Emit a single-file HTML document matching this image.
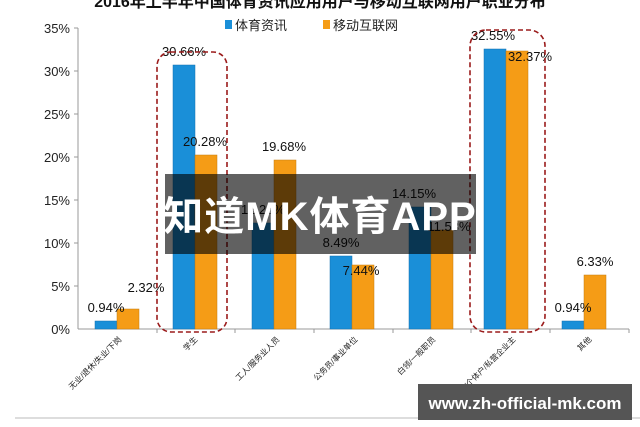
<!DOCTYPE html>
<html><head><meta charset="utf-8"><style>
body{margin:0;background:#fff;width:640px;height:427px;overflow:hidden;position:relative;font-family:"Liberation Sans","Noto Sans CJK SC",sans-serif}
svg{position:absolute;left:0;top:0}
</style></head><body>
<svg width="640" height="427" viewBox="0 0 640 427" font-family="Liberation Sans, Noto Sans CJK SC, sans-serif">
<text x="320" y="7" text-anchor="middle" font-size="16" font-weight="bold" fill="#111">2016年上半年中国体育资讯应用用户与移动互联网用户职业分布</text>
<rect x="225" y="20" width="7" height="9" fill="#1a8fd8"/><text x="235" y="30" font-size="13" fill="#222">体育资讯</text>
<rect x="323" y="20" width="7" height="9" fill="#f59c16"/><text x="333" y="30" font-size="13" fill="#222">移动互联网</text>
<g font-size="13" fill="#222" text-anchor="end">
<text x="70" y="33">35%</text><text x="70" y="76">30%</text><text x="70" y="119">25%</text><text x="70" y="162">20%</text><text x="70" y="205">15%</text><text x="70" y="248">10%</text><text x="70" y="291">5%</text><text x="70" y="334">0%</text>
</g>
<g stroke="#999" stroke-width="1">
<line x1="78" y1="28" x2="78" y2="329"/>
<line x1="78" y1="329" x2="629" y2="329"/>
<line x1="74" y1="28" x2="78" y2="28"/><line x1="74" y1="71" x2="78" y2="71"/><line x1="74" y1="114" x2="78" y2="114"/><line x1="74" y1="157" x2="78" y2="157"/><line x1="74" y1="200" x2="78" y2="200"/><line x1="74" y1="243" x2="78" y2="243"/><line x1="74" y1="286" x2="78" y2="286"/>
<line x1="157" y1="329" x2="157" y2="333"/><line x1="235" y1="329" x2="235" y2="333"/><line x1="314" y1="329" x2="314" y2="333"/><line x1="393" y1="329" x2="393" y2="333"/><line x1="471" y1="329" x2="471" y2="333"/><line x1="550" y1="329" x2="550" y2="333"/><line x1="629" y1="329" x2="629" y2="333"/>
</g>
<g fill="#1a8fd8" stroke="#1470b0" stroke-width="0.5">
<rect x="95" y="321" width="22" height="8"/>
<rect x="173" y="65" width="22" height="264"/>
<rect x="252" y="223" width="22" height="106"/>
<rect x="330" y="256" width="22" height="73"/>
<rect x="409" y="207" width="22" height="122"/>
<rect x="484" y="49" width="22" height="280"/>
<rect x="562" y="321" width="22" height="8"/>
</g>
<g fill="#f59c16" stroke="#c47a10" stroke-width="0.5">
<rect x="117" y="309" width="22" height="20"/>
<rect x="195" y="155" width="22" height="174"/>
<rect x="274" y="160" width="22" height="169"/>
<rect x="352" y="265" width="22" height="64"/>
<rect x="431" y="230" width="22" height="99"/>
<rect x="506" y="51" width="22" height="278"/>
<rect x="584" y="275" width="22" height="54"/>
</g>
<g font-size="13" fill="#111" text-anchor="middle">
<text x="106" y="312">0.94%</text><text x="146" y="292">2.32%</text>
<text x="184" y="56">30.66%</text><text x="205" y="146">20.28%</text>
<text x="263" y="214">12.26%</text><text x="284" y="151">19.68%</text>
<text x="341" y="247">8.49%</text><text x="361" y="275">7.44%</text>
<text x="414" y="198">14.15%</text><text x="449" y="231">11.53%</text>
<text x="493" y="40">32.55%</text><text x="530" y="61">32.37%</text>
<text x="573" y="312">0.94%</text><text x="595" y="266">6.33%</text>
</g>
<rect x="157" y="52" width="70" height="280" rx="14" fill="none" stroke="#9b1c1c" stroke-width="1.6" stroke-dasharray="5,3"/>
<rect x="470" y="30" width="75" height="302" rx="16" fill="none" stroke="#9b1c1c" stroke-width="1.6" stroke-dasharray="5,3"/>
<g font-size="8" fill="#222" text-anchor="end">
<text transform="translate(122,340) rotate(-45)">无业/退休/失业/下岗</text>
<text transform="translate(198,340) rotate(-45)">学生</text>
<text transform="translate(280,340) rotate(-45)">工人/服务业人员</text>
<text transform="translate(358,340) rotate(-45)">公务员/事业单位</text>
<text transform="translate(436,340) rotate(-45)">白领/一般职员</text>
<text transform="translate(516,340) rotate(-45)">自由职业/个体户/私营企业主</text>
<text transform="translate(592,340) rotate(-45)">其他</text>
</g>
<line x1="15" y1="418" x2="640" y2="418" stroke="#bbb" stroke-width="1"/>
<rect x="165" y="174" width="311" height="80" fill="rgba(0,0,0,0.62)"/>
<text x="320" y="230" text-anchor="middle" font-size="40" font-weight="bold" fill="#fff" letter-spacing="1">知道MK体育APP</text>
<rect x="418" y="384" width="214" height="36" fill="#555"/>
<text x="525" y="409" text-anchor="middle" font-size="17" font-weight="bold" fill="#fff">www.zh-official-mk.com</text>
</svg>
</body></html>
